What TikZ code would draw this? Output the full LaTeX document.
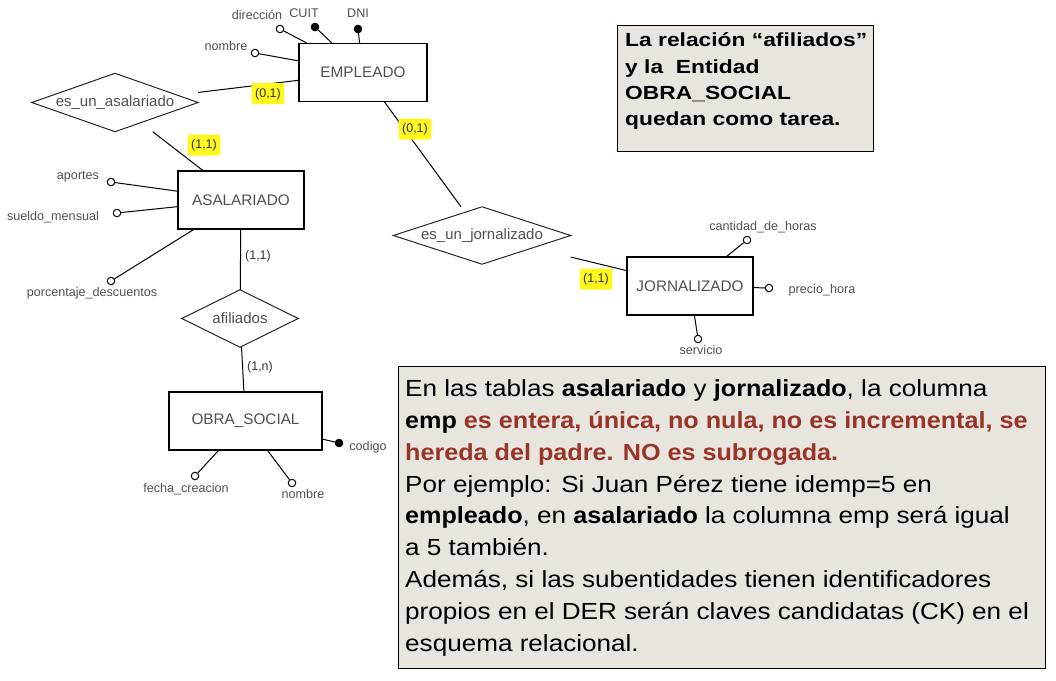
\documentclass[tikz,border=0pt]{standalone}
\usepackage{fontspec}
\setmainfont{Liberation Sans}
\newfontfamily\notafont{Liberation Sans}[FakeStretch=1.12]
\newfontfamily\notanegra{Liberation Sans Bold}[FakeStretch=1.08]
\newfontfamily\tareafont{Liberation Sans Bold}[FakeStretch=1.2]

\definecolor{notafondo}{RGB}{232,228,222}
\definecolor{rojonota}{RGB}{152,52,40}
\definecolor{grisder}{RGB}{80,80,80}
\definecolor{resaltado}{RGB}{255,248,30}

\tikzset{
  entidad/.style={draw=black, line width=1.3pt, fill=white, minimum width=#1, minimum height=58pt,
    inner sep=0pt, text=grisder, font=\fontsize{15.3}{18}\selectfont},
  relacion/.style={minimum width=#1, minimum height=58pt, inner sep=0pt, text=grisder,
    font=\fontsize{15}{18}\selectfont},
  rombo/.style={draw=black!85, line width=1pt},
  atrib/.style={circle, draw=black, line width=1pt, fill=white, minimum size=7.5pt, inner sep=0pt},
  clave/.style={atrib, fill=black},
  atxt/.style={text=grisder, font=\fontsize{12.6}{15}\selectfont, inner sep=0pt,
    text height=9pt, text depth=0pt},
  card/.style={text=black!80, font=\fontsize{12.5}{15}\selectfont, inner xsep=3.5pt, inner ysep=4pt,
    text height=10pt, text depth=3pt},
  cardres/.style={card, fill=resaltado, rounded corners=2pt},
  linea/.style={line width=1pt},
  nota/.style={draw=black, line width=1.4pt, fill=notafondo, inner sep=0pt, anchor=north west},
}

\begin{document}
\begin{tikzpicture}[x=1pt, y=-1pt]
  \useasboundingbox (0,0) rectangle (1056,680);

  % entidades
  \node[entidad=128pt] (empleado) at (363,72.5) {EMPLEADO};
  \node[entidad=126pt] (asalariado) at (241,200) {ASALARIADO};
  \node[entidad=153pt] (obrasocial) at (245.5,421) {OBRA\_SOCIAL};
  \node[entidad=126pt] (jornalizado) at (690,286) {JORNALIZADO};

  % relaciones
  \node[relacion=166pt] (esasal) at (115,102.5) {es\_un\_asalariado};
  \node[relacion=116pt, minimum height=57pt] (afiliados) at (240,318.5) {afiliados};
  \node[relacion=177pt, minimum height=57pt] (esjorn) at (482,235.5) {es\_un\_jornalizado};
  \foreach \r in {esasal,afiliados,esjorn}
    \draw[rombo] (\r.west) -- (\r.north) -- (\r.east) -- (\r.south) -- cycle;

  \draw[linea] (esasal) -- (empleado);
  \draw[linea] (esasal) -- (asalariado);
  \draw[linea] (empleado) -- (esjorn);
  \draw[linea] (esjorn) -- (jornalizado);
  \draw[linea] (asalariado) -- (afiliados);
  \draw[linea] (afiliados) -- (obrasocial);

  % atributos
  \node[atrib] (a-dir) at (280,29) {};
  \node[clave] (a-cuit) at (315,27) {};
  \node[clave] (a-dni) at (358,29) {};
  \node[atrib] (a-nomemp) at (255,53) {};
  \node[atrib] (a-aportes) at (111,182) {};
  \node[atrib] (a-sueldo) at (117,213) {};
  \node[atrib] (a-porc) at (111,281) {};
  \node[clave] (a-codigo) at (339,443) {};
  \node[atrib] (a-fecha) at (195,476) {};
  \node[atrib] (a-nomobra) at (292,483) {};
  \node[atrib] (a-horas) at (747,240) {};
  \node[atrib] (a-precio) at (769,288) {};
  \node[atrib] (a-servicio) at (698,339) {};
  \foreach \a/\e in {a-dir/empleado, a-cuit/empleado, a-dni/empleado, a-nomemp/empleado,
      a-aportes/asalariado, a-sueldo/asalariado, a-porc/asalariado,
      a-codigo/obrasocial, a-fecha/obrasocial, a-nomobra/obrasocial,
      a-horas/jornalizado, a-precio/jornalizado, a-servicio/jornalizado}
    \draw[linea] (\a) -- (\e);

  \node[atxt] (t-dir) at (257,15) {dirección};
  \node[atxt] (t-cuit) at (304,13) {CUIT};
  \node[atxt] (t-dni) at (358,13) {DNI};
  \node[atxt] (t-nomemp) at (226,46) {nombre};
  \node[atxt] (t-aportes) at (78,175) {aportes};
  \node[atxt] (t-sueldo) at (53,216) {sueldo\_mensual};
  \node[atxt] (t-porc) at (92,292) {porcentaje\_descuentos};
  \node[atxt] (t-codigo) at (368,446) {codigo};
  \node[atxt] (t-fecha) at (186,488) {fecha\_creacion};
  \node[atxt] (t-nomobra) at (303,494) {nombre};
  \node[atxt] (t-horas) at (763,226) {cantidad\_de\_horas};
  \node[atxt] (t-precio) at (822,289) {precio\_hora};
  \node[atxt] (t-servicio) at (701,350) {servicio};

  % cardinalidades
  \node[cardres] (c-empasal) at (268,93.5) {(0,1)};
  \node[cardres] (c-asal) at (204,145) {(1,1)};
  \node[card] (c-asalafil) at (258,256) {(1,1)};
  \node[card] (c-obra) at (260,367) {(1,n)};
  \node[cardres] (c-empjorn) at (415,129) {(0,1)};
  \node[cardres] (c-jorn) at (596,279) {(1,1)};

  % notas
  \node[nota, minimum width=256pt, minimum height=126pt] (tarea) at (617,25) {};
  \foreach \renglon [count=\i] in {{La relación “afiliados”},{y la~ Entidad},{OBRA\_SOCIAL},{quedan como tarea.}}
    \node[anchor=base west, inner sep=0pt, font=\tareafont\fontsize{19}{22}\selectfont] (tarea-\i)
      at (625,{46.7+26.4*(\i-1)}) {\renglon};

  \node[nota, minimum width=647pt, minimum height=302pt] (nota) at (398,366) {};
  \foreach \renglon [count=\i] in {
      {En las tablas {\notanegra asalariado} y {\notanegra jornalizado}, la columna},
      {{\notanegra emp \textcolor{rojonota}{es entera, única, no nula, no es incremental, se}}},
      {{\notanegra\color{rojonota}hereda del padre. NO es subrogada.}},
      {Por ejemplo: Si Juan Pérez tiene idemp=5 en},
      {{\notanegra empleado}, en {\notanegra asalariado} la columna emp será igual},
      {a 5 también.},
      {Además, si las subentidades tienen identificadores},
      {propios en el DER serán claves candidatas (CK) en el},
      {esquema relacional.}}
    \node[anchor=base west, inner sep=0pt, font=\notafont\fontsize{23.3}{28}\selectfont] (nota-\i)
      at (405,{396.3+31.9*(\i-1)}) {\renglon};
\end{tikzpicture}
\end{document}
